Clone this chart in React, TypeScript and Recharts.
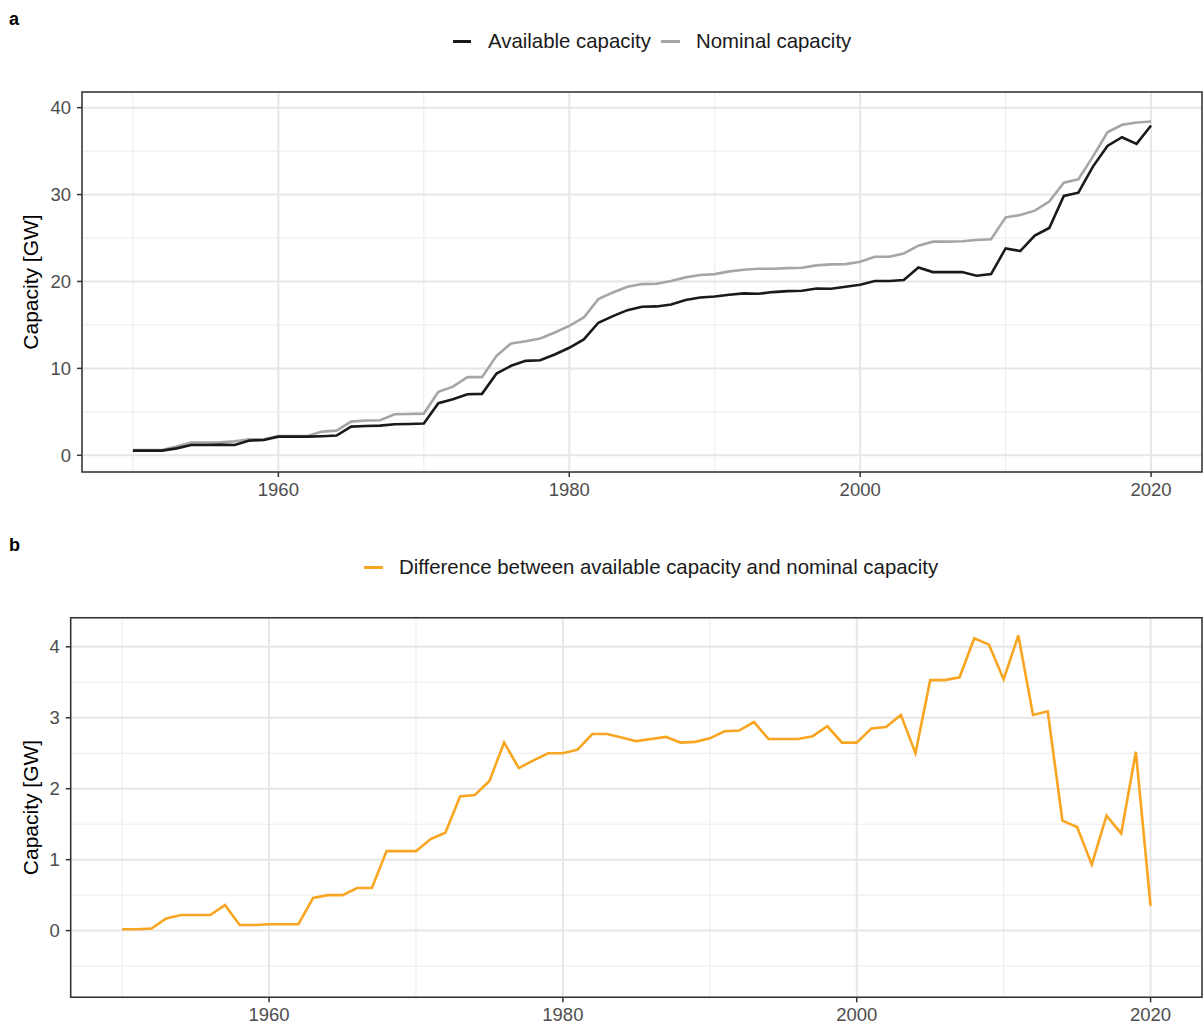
import React from 'react';
import { LineChart, Line, XAxis, YAxis, CartesianGrid, ReferenceArea } from 'recharts';

const years = [
  1950, 1951, 1952, 1953, 1954, 1955, 1956, 1957, 1958, 1959,
  1960, 1961, 1962, 1963, 1964, 1965, 1966, 1967, 1968, 1969,
  1970, 1971, 1972, 1973, 1974, 1975, 1976, 1977, 1978, 1979,
  1980, 1981, 1982, 1983, 1984, 1985, 1986, 1987, 1988, 1989,
  1990, 1991, 1992, 1993, 1994, 1995, 1996, 1997, 1998, 1999,
  2000, 2001, 2002, 2003, 2004, 2005, 2006, 2007, 2008, 2009,
  2010, 2011, 2012, 2013, 2014, 2015, 2016, 2017, 2018, 2019,
  2020,
];

const availableCapacity = [
  0.54, 0.54, 0.54, 0.8, 1.19, 1.19, 1.23, 1.19, 1.69, 1.77,
  2.15, 2.15, 2.15, 2.2, 2.27, 3.3, 3.38, 3.42, 3.57, 3.6,
  3.65, 6.0, 6.45, 7.03, 7.07, 9.4, 10.3, 10.87, 10.94, 11.6,
  12.37, 13.33, 15.25, 16.01, 16.7, 17.09, 17.13, 17.36, 17.86, 18.16,
  18.28, 18.47, 18.63, 18.59, 18.78, 18.89, 18.93, 19.2, 19.16, 19.39,
  19.62, 20.05, 20.05, 20.16, 21.62, 21.08, 21.08, 21.08, 20.66, 20.85,
  23.81, 23.5, 25.27, 26.15, 29.84, 30.22, 33.22, 35.6, 36.6, 35.83,
  37.94,
];

const nominalCapacity = [
  0.6, 0.6, 0.6, 1.0, 1.46, 1.46, 1.5, 1.6, 1.84, 1.84,
  2.23, 2.23, 2.23, 2.73, 2.84, 3.88, 4.0, 4.03, 4.72, 4.76,
  4.8, 7.3, 7.9, 8.99, 8.99, 11.45, 12.88, 13.13, 13.44, 14.13,
  14.9, 15.86, 17.97, 18.74, 19.39, 19.7, 19.74, 20.05, 20.47, 20.74,
  20.85, 21.16, 21.35, 21.47, 21.47, 21.54, 21.58, 21.85, 21.97, 22.0,
  22.28, 22.85, 22.85, 23.23, 24.12, 24.58, 24.58, 24.62, 24.77, 24.85,
  27.38, 27.65, 28.15, 29.19, 31.37, 31.76, 34.37, 37.17, 38.02, 38.29,
  38.4,
];

const capacityDifference = [
  0.02, 0.02, 0.03, 0.17, 0.22, 0.22, 0.22, 0.36, 0.08, 0.08,
  0.09, 0.09, 0.09, 0.46, 0.5, 0.5, 0.6, 0.6, 1.12, 1.12,
  1.12, 1.29, 1.38, 1.89, 1.91, 2.11, 2.65, 2.29, 2.4, 2.5,
  2.5, 2.55, 2.77, 2.77, 2.72, 2.67, 2.7, 2.73, 2.65, 2.66,
  2.71, 2.81, 2.82, 2.94, 2.7, 2.7, 2.7, 2.74, 2.88, 2.65,
  2.65, 2.85, 2.87, 3.04, 2.5, 3.53, 3.53, 3.57, 4.12, 4.03,
  3.54, 4.16, 3.04, 3.09, 1.55, 1.46, 0.93, 1.62, 1.37, 2.52,
  0.35,
];

const xTicks = [1960, 1980, 2000, 2020];
const xMinor = [1950, 1970, 1990, 2010];
const yTicksA = [0, 10, 20, 30, 40];
const yMinorA = [5, 15, 25, 35];
const yTicksB = [0, 1, 2, 3, 4];
const yMinorB = [-0.5, 0.5, 1.5, 2.5, 3.5];

const legendA = ['Available capacity', 'Nominal capacity'];
const legendB = ['Difference between available capacity and nominal capacity'];

const dataA = years.map((y, i) => ({ year: y, available: availableCapacity[i], nominal: nominalCapacity[i] }));
const dataB = years.map((y, i) => ({ year: y, diff: capacityDifference[i] }));

const FONT = '"Liberation Sans", Arial, sans-serif';
const X_DOMAIN: [number, number] = [1946.5, 2023.5];
const Y_DOMAIN_A: [number, number] = [-1.92, 41.8];
const Y_DOMAIN_B: [number, number] = [-0.94, 4.41];

const tickStyle = { fill: '#4d4d4d', fontSize: 18.5, fontFamily: FONT };

const YLabel = (props: any) => {
  const vb = props.viewBox || {};
  const cx = 30;
  const cy = vb.y + vb.height / 2;
  return (
    <text
      x={cx}
      y={cy}
      transform={`rotate(-90, ${cx}, ${cy})`}
      textAnchor="middle"
      dominantBaseline="central"
      fontSize={21}
      fontFamily={FONT}
      fill="#000"
    >
      Capacity [GW]
    </text>
  );
};

const LegendKey = ({ left, top, color, width }: { left: number; top: number; color: string; width: number }) => (
  <div style={{ position: 'absolute', left, top: top - 1.5, width, height: 3, background: color }} />
);

const LegendText = ({ left, top, text }: { left: number; top: number; text: string }) => (
  <div
    style={{
      position: 'absolute',
      left,
      top: top - 12,
      height: 24,
      lineHeight: '24px',
      fontSize: 20.4,
      fontFamily: FONT,
      color: '#1a1a1a',
      whiteSpace: 'nowrap',
    }}
  >
    {text}
  </div>
);

const PanelTag = ({ top, text }: { top: number; text: string }) => (
  <div
    style={{
      position: 'absolute',
      left: 9,
      top,
      fontSize: 18,
      fontWeight: 'bold',
      fontFamily: FONT,
      color: '#000',
      lineHeight: '18px',
    }}
  >
    {text}
  </div>
);

export default function App() {
  return (
    <div style={{ position: 'absolute', left: 0, top: 0, width: 1203, height: 1028, background: '#fff' }}>
      <PanelTag top={10} text="a" />
      <LegendKey left={453} top={41} color="#1a1a1a" width={18} />
      <LegendText left={488} top={41} text={legendA[0]} />
      <LegendKey left={661} top={41} color="#a6a6a6" width={19} />
      <LegendText left={696} top={41} text={legendA[1]} />

      <div style={{ position: 'absolute', left: 0, top: 0 }}>
        <LineChart width={1203} height={520} data={dataA} margin={{ top: 92, right: 1, bottom: 18, left: 0 }}>
          <CartesianGrid
            stroke="#ebebeb"
            strokeWidth={1}
            horizontalValues={yMinorA}
            verticalValues={xMinor}
          />
          <CartesianGrid stroke="#e6e6e6" strokeWidth={2} />
          <XAxis
            dataKey="year"
            type="number"
            domain={X_DOMAIN}
            allowDataOverflow
            ticks={xTicks}
            axisLine={false}
            tickLine={{ stroke: '#333333', strokeWidth: 1.5 }}
            tickSize={5}
            tickMargin={6}
            height={30}
            tick={tickStyle}
          />
          <YAxis
            type="number"
            domain={Y_DOMAIN_A}
            allowDataOverflow
            ticks={yTicksA}
            axisLine={false}
            tickLine={{ stroke: '#333333', strokeWidth: 1.5 }}
            tickSize={5}
            tickMargin={6}
            width={82}
            tick={tickStyle}
            label={<YLabel />}
          />
          <Line
            dataKey="nominal"
            stroke="#a6a6a6"
            strokeWidth={2.6}
            dot={false}
            isAnimationActive={false}
          />
          <Line
            dataKey="available"
            stroke="#1a1a1a"
            strokeWidth={2.6}
            dot={false}
            isAnimationActive={false}
          />
          <ReferenceArea
            x1={X_DOMAIN[0]}
            x2={X_DOMAIN[1]}
            y1={Y_DOMAIN_A[0]}
            y2={Y_DOMAIN_A[1]}
            fill="none"
            fillOpacity={0}
            stroke="#333333"
            strokeWidth={1.5}
            ifOverflow="visible"
          />
        </LineChart>
      </div>

      <PanelTag top={536} text="b" />
      <LegendKey left={364} top={567} color="#f8a521" width={19} />
      <LegendText left={399} top={567} text={legendB[0]} />

      <div style={{ position: 'absolute', left: 0, top: 520 }}>
        <LineChart width={1203} height={508} data={dataB} margin={{ top: 97.7, right: 1, bottom: 0.7, left: 0 }}>
          <CartesianGrid
            stroke="#ebebeb"
            strokeWidth={1}
            horizontalValues={yMinorB}
            verticalValues={xMinor}
          />
          <CartesianGrid stroke="#e6e6e6" strokeWidth={2} />
          <XAxis
            dataKey="year"
            type="number"
            domain={X_DOMAIN}
            allowDataOverflow
            ticks={xTicks}
            axisLine={false}
            tickLine={{ stroke: '#333333', strokeWidth: 1.5 }}
            tickSize={5}
            tickMargin={6}
            height={30}
            tick={tickStyle}
          />
          <YAxis
            type="number"
            domain={Y_DOMAIN_B}
            allowDataOverflow
            ticks={yTicksB}
            axisLine={false}
            tickLine={{ stroke: '#333333', strokeWidth: 1.5 }}
            tickSize={5}
            tickMargin={6}
            width={70.7}
            tick={tickStyle}
            label={<YLabel />}
          />
          <Line
            dataKey="diff"
            stroke="#f8a521"
            strokeWidth={2.6}
            dot={false}
            isAnimationActive={false}
          />
          <ReferenceArea
            x1={X_DOMAIN[0]}
            x2={X_DOMAIN[1]}
            y1={Y_DOMAIN_B[0]}
            y2={Y_DOMAIN_B[1]}
            fill="none"
            fillOpacity={0}
            stroke="#333333"
            strokeWidth={1.5}
            ifOverflow="visible"
          />
        </LineChart>
      </div>
    </div>
  );
}
